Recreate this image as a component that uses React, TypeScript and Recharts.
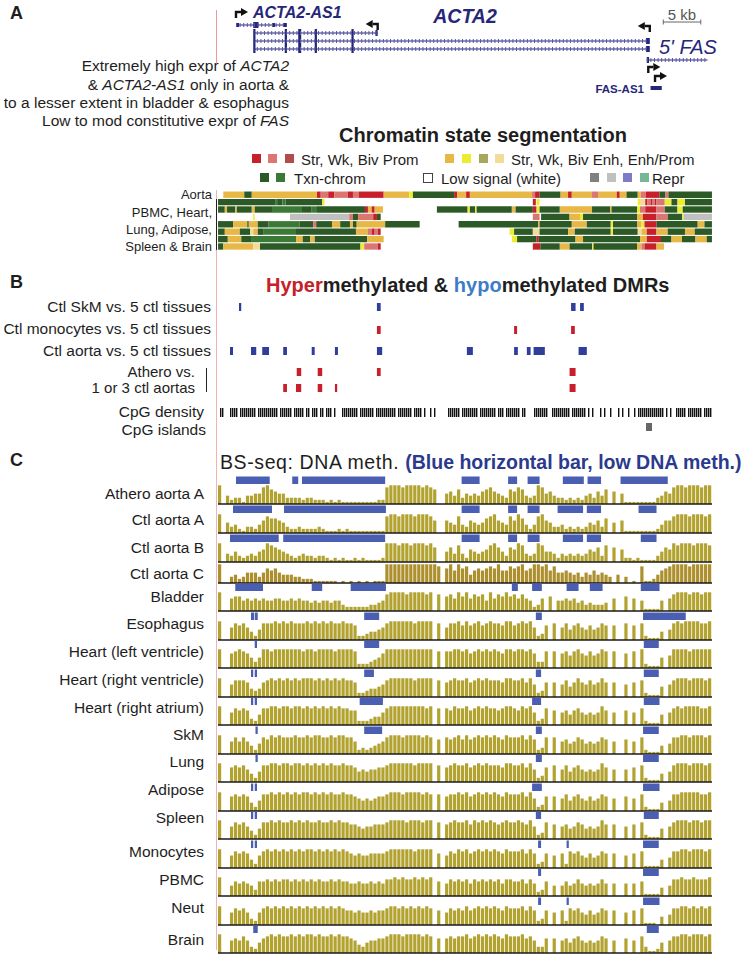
import React from "react";
import {
  BarChart,
  ComposedChart,
  Bar,
  Scatter,
  XAxis,
  YAxis,
  ReferenceArea,
  ReferenceLine,
} from "recharts";

const FONT = "'Liberation Sans', Arial, Helvetica, sans-serif";
const SPAN_KB = 65.9; // width of the browser window in kb
const PLOT_X = 218;
const PLOT_W = 494;
const NAVY = "#27277a";
const OLIVE = "#b2a230";
const LOW_BLUE = "#4a5eb2";
const INK = "#1e1e1e";

type Seg = [number, number, string];
type Span = [number, number];

const STATE_COLORS: Record<string, string> = {
  SP: "#c8202b", // strong promoter
  WP: "#db7672", // weak promoter
  BP: "#b04c4c", // bivalent promoter
  SE: "#e8b847", // strong enhancer
  WE: "#eded2f", // weak enhancer
  BE: "#a8a85c", // bivalent enhancer
  EP: "#f2dc98", // enh/prom
  TX: "#2b5a26", // transcribed
  TC: "#3b7a36", // txn-chrom
  R1: "#808080",
  R2: "#c0c0c0",
  R3: "#7d7dc6",
  R4: "#76b896",
};

// ---- gene models (kb from left edge) ----
const acta2As1Span: Span = [2.4, 9.2];
const acta2As1Exons: Span[] = [[2.4, 2.8], [4.7, 5.4], [7.2, 7.6], [8.7, 9.2]];
const acta2ShortSpan: Span = [4.7, 21.3];
const acta2LongSpan: Span = [4.7, 57.6];
const acta2SharedExons: Span[] = [[4.7, 5.0], [8.9, 9.2], [10.7, 11.1], [12.9, 13.2], [17.8, 18.1]];
const acta2ShortFirstExon: Span = [21.0, 21.3];
const acta2LongFirstExon: Span = [57.1, 57.6];
const fasSpan: Span = [57.2, 65.3];
const fasExons: Span[] = [[57.2, 57.5]];
const fasAs1Span: Span = [57.7, 59.2];
const tssKb = [2.4, 21.3, 57.6, 57.4, 58.3];
const tssStrand = [1, -1, -1, 1, 1];
const scaleBarKb: Span = [59.4, 64.4];

// ---- chromatin state segmentation ----
const chromAorta: Seg[] = [
  [0.7, 3.5, "SE"], [3.5, 4.5, "TX"], [4.5, 13.2, "SE"], [13.2, 13.7, "SP"], [13.7, 14.7, "WP"],
  [14.7, 15.5, "SP"], [15.5, 17.3, "WP"], [17.3, 18.0, "SP"], [18.0, 18.8, "WP"], [18.8, 22.1, "SP"],
  [22.1, 25.5, "SE"], [25.5, 26.0, "WE"], [26.0, 31.5, "TX"], [31.5, 31.9, "SP"], [31.9, 33.1, "SE"],
  [33.1, 33.6, "SP"], [33.6, 41.9, "SE"], [41.9, 42.3, "WP"], [42.3, 42.9, "SP"], [42.9, 45.7, "TX"],
  [45.7, 46.7, "SE"], [46.7, 47.2, "SP"], [47.2, 49.9, "SE"], [49.9, 50.7, "WP"], [50.7, 53.2, "SE"],
  [53.2, 53.6, "SP"], [53.6, 54.5, "SE"], [54.5, 56.0, "TX"], [56.0, 56.4, "SE"], [56.4, 57.1, "WP"],
  [57.1, 58.9, "SP"], [58.9, 59.7, "TX"], [59.7, 60.1, "WP"], [60.1, 65.9, "TX"],
];
const chromTissue1: Seg[] = [
  [0, 7.7, "TX"], [7.7, 8.0, "TC"], [8.0, 8.6, "TX"], [8.6, 9.0, "TC"], [9.0, 13.9, "TX"], [13.9, 14.2, "WE"],
  [42.0, 42.4, "SP"], [42.5, 42.9, "WE"], [56.0, 56.3, "WE"], [56.3, 57.0, "EP"], [57.0, 57.3, "SP"],
  [57.3, 57.7, "WP"], [57.7, 57.9, "SP"], [57.9, 58.3, "WP"], [58.3, 58.5, "SP"], [58.5, 59.6, "WP"],
  [59.6, 60.5, "WE"], [60.5, 61.3, "TX"], [61.3, 62.3, "WE"], [62.3, 65.9, "TX"],
];
const chromTissue2: Seg[] = [
  [0, 0.9, "TX"], [0.9, 1.2, "SE"], [1.2, 2.3, "TX"], [2.3, 2.5, "SE"], [2.5, 4.5, "TX"], [4.5, 4.9, "SE"],
  [4.9, 7.2, "TX"], [7.2, 11.2, "TC"], [11.2, 12.5, "TX"], [12.5, 13.2, "TC"], [13.2, 19.6, "TX"],
  [19.6, 20.0, "SP"], [20.0, 20.5, "SE"], [20.5, 20.9, "SP"], [20.9, 22.0, "SE"], [29.2, 33.3, "TX"],
  [33.3, 33.6, "WE"], [33.6, 34.3, "TX"], [34.3, 34.5, "WE"], [34.5, 39.2, "TX"], [39.2, 39.7, "SE"],
  [39.7, 42.0, "TX"], [42.0, 42.5, "SP"], [42.5, 42.9, "WE"], [42.9, 45.6, "TX"], [45.6, 49.9, "SE"],
  [49.9, 52.3, "TX"], [52.3, 52.5, "SE"], [52.5, 55.9, "TX"], [55.9, 56.3, "WE"], [56.3, 57.0, "WP"],
  [57.0, 58.5, "SP"], [58.5, 59.6, "WP"], [59.6, 61.3, "TX"], [61.3, 62.0, "WE"], [62.0, 65.9, "TX"],
];
const chromTissue3: Seg[] = [
  [4.7, 4.9, "WE"], [9.6, 17.5, "R2"], [17.5, 18.0, "WP"], [18.0, 18.7, "TX"], [18.7, 20.7, "WP"],
  [20.7, 21.2, "SP"], [21.2, 21.7, "TX"], [42.0, 42.9, "WP"], [43.1, 46.9, "TX"], [46.9, 48.3, "SE"],
  [48.3, 48.7, "WE"], [48.7, 55.9, "TX"], [55.9, 56.7, "SE"], [56.7, 58.5, "SP"], [58.5, 60.0, "WP"],
  [60.0, 61.9, "TX"], [61.9, 62.1, "WE"], [62.1, 65.9, "R2"],
];
const chromTissue4: Seg[] = [
  [0, 2.0, "TX"], [2.0, 3.9, "SE"], [3.9, 4.1, "TX"], [4.1, 5.3, "SE"], [5.3, 6.7, "TX"], [6.7, 10.9, "TC"],
  [10.9, 12.7, "TX"], [12.7, 13.1, "WP"], [13.1, 15.2, "TX"], [15.2, 16.3, "SE"], [16.3, 17.6, "TX"],
  [17.6, 18.0, "SE"], [18.0, 18.5, "TX"], [18.5, 22.3, "SE"], [22.3, 26.9, "TX"], [32.1, 42.7, "TX"],
  [42.7, 42.9, "SE"], [42.9, 47.2, "TX"], [47.2, 49.2, "SE"], [49.2, 52.4, "TX"], [52.4, 52.7, "WE"],
  [52.7, 55.9, "TX"], [55.9, 56.5, "SE"], [56.5, 56.9, "WE"], [56.9, 58.5, "SP"], [58.5, 64.0, "TX"],
  [64.0, 64.9, "SE"], [64.9, 65.9, "TX"],
];
const chromTissue5: Seg[] = [
  [0, 0.9, "TX"], [0.9, 2.9, "SE"], [2.9, 4.3, "TX"], [4.3, 4.7, "EP"], [4.7, 5.3, "SE"], [5.3, 6.1, "TX"],
  [6.1, 10.4, "TC"], [10.4, 18.4, "TX"], [18.4, 20.0, "SE"], [20.0, 20.5, "WP"], [20.5, 20.9, "SP"],
  [20.9, 21.3, "WP"], [21.3, 21.7, "SP"], [38.9, 39.5, "WE"], [39.5, 42.0, "TX"], [42.0, 42.9, "EP"],
  [42.9, 46.7, "TX"], [46.7, 47.6, "SE"], [47.6, 52.4, "TX"], [52.4, 52.7, "WE"], [52.7, 56.0, "TX"],
  [56.0, 56.5, "EP"], [56.5, 57.2, "SE"], [57.2, 58.5, "SP"], [58.5, 60.0, "SE"], [60.0, 62.3, "TX"],
  [62.3, 63.6, "SE"], [63.6, 65.9, "TX"],
];
const chromTissue6: Seg[] = [
  [0, 1.3, "TX"], [1.3, 3.1, "SE"], [3.1, 4.4, "TX"], [4.4, 10.4, "TC"], [10.4, 11.3, "SE"], [11.3, 12.3, "TX"],
  [12.3, 12.9, "SE"], [12.9, 19.9, "TX"], [19.9, 22.1, "SE"], [39.2, 39.9, "WE"], [39.9, 42.5, "TX"],
  [42.5, 42.8, "SP"], [42.8, 47.7, "TX"], [47.7, 48.7, "SE"], [48.7, 56.3, "TX"], [56.3, 57.2, "SE"],
  [57.2, 59.1, "SP"], [59.1, 60.5, "TX"], [60.5, 61.9, "SE"], [61.9, 63.7, "TX"], [63.7, 65.2, "SE"],
  [65.2, 65.9, "TX"],
];
const chromTissue7: Seg[] = [
  [0, 0.7, "TX"], [0.7, 4.7, "SE"], [4.7, 5.6, "EP"], [5.6, 19.0, "TX"], [19.0, 19.5, "WE"], [19.5, 21.3, "WP"],
  [21.3, 21.7, "SP"], [42.0, 43.0, "SP"], [43.0, 45.6, "TX"], [45.6, 46.9, "SE"], [46.9, 49.9, "TX"],
  [49.9, 50.1, "WE"], [50.1, 55.9, "TX"], [55.9, 56.5, "SE"], [56.5, 56.9, "WP"], [56.9, 58.5, "SP"],
  [58.5, 59.5, "SE"],
];

// ---- DMRs ----
const dmrSkm: Span[] = [[2.8, 3.1], [21.2, 21.7], [47.1, 47.7], [48.3, 48.8]];
const dmrMonocytes: Span[] = [[21.2, 21.7], [39.5, 39.9], [47.1, 47.6]];
const dmrAorta: Span[] = [
  [1.6, 2.0], [4.4, 5.1], [5.9, 6.8], [8.7, 9.2], [12.5, 12.9], [15.6, 16.0], [21.2, 21.9],
  [33.2, 34.0], [39.5, 40.0], [41.2, 41.7], [42.1, 43.6], [48.1, 49.2],
];
const dmrAtheroVs1: Span[] = [[10.5, 11.1], [13.3, 13.9], [21.2, 21.7], [46.9, 47.7]];
const dmrAtheroVs3: Span[] = [[8.7, 9.2], [10.4, 11.1], [13.3, 13.9], [15.6, 15.9], [46.9, 47.7]];

// CpG density, 1 = CpG present in bin
const cpgDensity =
  "011000 1111 0 11111111 0 1111111111 0 111111 0 11111 0 11 0 111 0 11 0 111 0 1000 " +
  "11111111 0 1111111 0 11 11111111 0 1111111 0 1111 0 1 00101000000 " +
  "111111 0 11111111 0 11111111 0 111 0 1111111 0 1 1000 01111111 00 111111111 0 1111111 0 1 " +
  "010001010010001010010010 1111111111111 010100 11111 0 1111111 0 1111";
const cpgIslands: Span[] = [[57.1, 57.9]];

// ---- BS-seq methylation profiles, 0-9 per bin (9 = fully methylated) ----
const athAortaA = "90 423314455 897655 3333233222 121211111111122 899989999898 700 5647354546786543 7687434985643 323232453647 060511111111 3465 8998999899";
const ctlAortaA = "90 534213324 687765 3223222232 111212111111111 899899989998 600 6548436545789654 8697424896533 423232354637 050611111111 2466 8999899989";
const ctlAortaB = "90 435323435 698765 4323433233 212121121211112 999899899989 700 5748426545689753 7698434985542 434343465738 070622121111 3576 9899989998";
const ctlAortaC = "90 034235553 576754 4433222111 111010101010111 999999999999 980 7969784676787966 8789679989685 565453546454 304030108112 4678 9999899999";
const bladder = "90 067756565 655665 5656554545 545532222223345 899998999989 080 7869796878596879 7868652360705 565645343334 060070605111 1506 8999899899";
const esophagus = "90 068786425 888989 8988898989 898898872234456 899999989999 080 6889797897898879 9789896237080 685786575687 070080708211 1405 8989999889";
const heartLv = "90 078987535 998999 9999899899 998999982223457 999999999999 080 8899897898989879 9899897338080 786897686798 080070809211 1506 9999899999";
const heartRv = "90 068887434 789898 9898999898 989898872234456 899999989999 080 7898897898988879 9889796237070 685797686797 070060708211 1506 8999899989";
const heartRa = "90 068787325 889989 9899898989 898988772223446 899999999989 080 8798897898988789 9879896238070 675786565697 060070608211 1506 8989999889";
const skm = "90 068686425 879898 8898898998 898998862323456 899989999898 070 8789797898989879 8889797238080 675687565687 060070608211 1405 8899899989";
const lung = "90 078786425 889989 9899898989 898898875656677 899999989999 080 7898897898988879 9889796237080 685786565697 060060708211 1405 8999899989";
const adipose = "90 078787425 889898 9898998989 898898876565677 899989999898 080 7889897898989879 8889796237070 685786575687 060070608211 1405 8899999889";
const spleen = "90 068786425 889898 8989898898 898988776566777 899998999899 080 7898897989898789 8898796238070 675687565697 070060708211 1506 8999899899";
const monocytes = "90 068787426 898989 8989899898 989898767667777 899999989999 070 6879897898989879 8889797237060 728786575687 070060708111 1405 8899899989";
const pbmc = "90 057676537 787878 8787878787 787877667667676 889898898989 070 6878786878787868 8778686237050 575686565686 060060607111 1405 8898898889";
const neut = "90 068786326 898989 8989898989 898987767667677 899898989898 070 6878797898989879 8889797237060 728786575687 070060708111 0405 8899898989";
const brain = "90 067686325 789898 8989899898 898988764356677 899989999898 070 7878897898989879 8889786337070 675786565687 060070608311 2506 8899899989";

// low-methylation (blue bar) calls, kb
const lowAthAortaA: Span[] = [[2.4, 6.9], [9.9, 10.7], [11.2, 22.3], [32.5, 34.9], [38.7, 39.9], [41.3, 42.9], [46.0, 48.8], [49.3, 51.1], [53.7, 60.0]];
const lowCtlAortaA: Span[] = [[2.0, 7.2], [8.8, 22.4], [32.5, 34.9], [38.7, 39.9], [41.3, 42.9], [45.3, 48.7], [49.2, 51.1], [56.1, 58.5]];
const lowCtlAortaB: Span[] = [[1.6, 8.1], [8.7, 22.3], [32.5, 34.9], [38.7, 39.9], [41.3, 42.9], [46.0, 48.7], [49.2, 51.1], [56.4, 58.5]];
const lowCtlAortaC: Span[] = [];
const lowBladder: Span[] = [[2.3, 6.0], [12.5, 13.9], [17.7, 22.4], [39.2, 40.0], [41.9, 43.2], [46.5, 48.1], [49.6, 51.3], [56.4, 58.9]];
const lowEsophagus: Span[] = [[4.4, 4.8], [4.9, 5.3], [19.5, 21.5], [42.4, 43.2], [56.7, 62.4]];
const lowHeartLv: Span[] = [[4.9, 5.2], [19.5, 21.5], [56.8, 58.8]];
const lowHeartRv: Span[] = [[4.4, 4.7], [4.9, 5.2], [19.5, 20.8], [42.4, 43.1], [56.8, 58.8]];
const lowHeartRa: Span[] = [[4.4, 4.7], [4.9, 5.2], [18.9, 22.0], [41.9, 43.1], [56.8, 58.9]];
const lowSkm: Span[] = [[5.0, 5.3], [19.5, 21.9], [42.4, 43.2], [56.7, 58.8]];
const lowLung: Span[] = [[5.0, 5.3], [42.4, 43.2], [56.7, 58.8]];
const lowAdipose: Span[] = [[4.4, 4.7], [4.9, 5.2], [41.9, 43.2], [56.7, 58.9]];
const lowSpleen: Span[] = [[4.4, 4.7], [4.9, 5.2], [42.4, 43.1], [56.8, 58.8]];
const lowMonocytes: Span[] = [[4.4, 4.7], [4.9, 5.2], [42.7, 43.1], [46.5, 46.8], [56.7, 58.8]];
const lowPbmc: Span[] = [[42.7, 43.1], [56.7, 58.8]];
const lowNeut: Span[] = [[42.7, 43.1], [46.5, 46.8], [56.7, 58.9]];
const lowBrain: Span[] = [[4.7, 5.3], [57.2, 58.8]];

const bsLabels = [
  "Athero aorta A", "Ctl aorta A", "Ctl aorta B", "Ctl aorta C", "Bladder", "Esophagus",
  "Heart (left ventricle)", "Heart (right ventricle)", "Heart (right atrium)", "SkM", "Lung",
  "Adipose", "Spleen", "Monocytes", "PBMC", "Neut", "Brain",
];
const bsProfiles = [
  athAortaA, ctlAortaA, ctlAortaB, ctlAortaC, bladder, esophagus, heartLv, heartRv, heartRa,
  skm, lung, adipose, spleen, monocytes, pbmc, neut, brain,
];
const bsLows = [
  lowAthAortaA, lowCtlAortaA, lowCtlAortaB, lowCtlAortaC, lowBladder, lowEsophagus, lowHeartLv,
  lowHeartRv, lowHeartRa, lowSkm, lowLung, lowAdipose, lowSpleen, lowMonocytes, lowPbmc, lowNeut, lowBrain,
];

// layout
const BS_BASELINE = [504, 533, 562, 583, 611, 639.5, 668, 696.5, 725, 753.5, 782, 810.5, 839, 867.5, 896, 924.5, 953];
const BS_LABEL_Y = [494, 520, 548, 574, 597, 624, 652, 680, 708, 735, 762, 790, 818, 852, 880, 908, 940];
const CHROM_TOP = 191;
const CHROM_ROW_H = 7.4;

function toBins(profile: string, scale: number) {
  const s = profile.replace(/\s/g, "");
  const w = SPAN_KB / s.length;
  return s
    .split("")
    .map((c, i) => ({ x: (i + 0.5) * w, v: Number(c) / scale }))
    .filter((d) => d.v > 0);
}

function Txt({ x, y, align = "left", size = 15.5, weight = 400, italic = false, color = INK, spacing, children }: any) {
  const style: React.CSSProperties = {
    position: "absolute",
    top: y,
    fontFamily: FONT,
    fontSize: size,
    fontWeight: weight,
    fontStyle: italic ? "italic" : "normal",
    color,
    whiteSpace: "nowrap",
    lineHeight: 1,
    letterSpacing: spacing,
  };
  if (align === "right") {
    style.right = 753 - x;
    style.transform = "translateY(-50%)";
  } else if (align === "center") {
    style.left = x;
    style.transform = "translate(-50%, -50%)";
  } else {
    style.left = x;
    style.transform = "translateY(-50%)";
  }
  return <div style={style}>{children}</div>;
}

const Box = ({ x, y, w, h, c, border }: any) => (
  <div
    style={{
      position: "absolute", left: x, top: y, width: w, height: h, background: c,
      border: border, boxSizing: "border-box",
    }}
  />
);

const noMargin = { top: 0, right: 0, bottom: 0, left: 0 };

const TssArrow = (p: any) => {
  const { cx, cy, payload } = p;
  if (cx == null || cy == null) return null;
  const d = payload.dir;
  const top = cy - 6;
  const hb = cx + d * 5;
  return (
    <g>
      <path d={`M${cx},${cy} L${cx},${top} L${hb},${top}`} stroke="#111" strokeWidth={2.4} fill="none" />
      <path d={`M${hb},${top - 4} L${hb + d * 7},${top} L${hb},${top + 4} Z`} fill="#111" />
    </g>
  );
};

function GeneTrack() {
  const rowY = { as1: 25, short: 33, long1: 41, long2: 49, fas: 60, fasAs1: 88 };
  const tssY = [18, 30, 32, 73, 82];
  const arrows = tssKb.map((x, i) => ({ x, y: tssY[i], dir: tssStrand[i] }));
  const line = (k: string, [a, b]: Span, y: number) => [
    <ReferenceLine key={k + "l"} segment={[{ x: a, y }, { x: b, y }]} stroke={NAVY} strokeWidth={1} />,
    <ReferenceLine key={k + "h"} segment={[{ x: a, y }, { x: b, y }]} stroke="#5656a8" strokeWidth={4} strokeDasharray="1 2.6" />,
  ];
  const exon = (k: string, [a, b]: Span, y: number, h = 7) => (
    <ReferenceArea key={k} x1={a} x2={b} y1={y - h / 2} y2={y + h / 2} fill={NAVY} fillOpacity={1} stroke="none" ifOverflow="visible" />
  );
  return (
    <div style={{ position: "absolute", left: PLOT_X, top: 0 }}>
      <ComposedChart width={PLOT_W} height={100} margin={noMargin}>
        <XAxis type="number" dataKey="x" domain={[0, SPAN_KB]} allowDataOverflow hide />
        <YAxis type="number" dataKey="y" domain={[0, 100]} allowDataOverflow reversed hide />
        {line("as1", acta2As1Span, rowY.as1)}
        {acta2As1Exons.map((e, i) => exon("as1e" + i, e, rowY.as1, i === 1 ? 6 : 4))}
        {line("sh", acta2ShortSpan, rowY.short)}
        {line("l1", acta2LongSpan, rowY.long1)}
        {line("l2", acta2LongSpan, rowY.long2)}
        {[rowY.short, rowY.long1, rowY.long2].map((y, r) =>
          acta2SharedExons.map((e, i) => exon(`ae${r}-${i}`, e, y, 8)),
        )}
        {exon("sfe", acta2ShortFirstExon, rowY.short, 6)}
        {exon("lfe1", acta2LongFirstExon, rowY.long1, 6)}
        {exon("lfe2", acta2LongFirstExon, rowY.long2, 6)}
        {line("fas", fasSpan, rowY.fas)}
        {fasExons.map((e, i) => exon("fe" + i, e, rowY.fas, 6))}
        {exon("fasas1", fasAs1Span, rowY.fasAs1, 4)}
        <ReferenceLine segment={[{ x: scaleBarKb[0], y: 22 }, { x: scaleBarKb[1], y: 22 }]} stroke="#666" strokeWidth={1} />
        <ReferenceLine segment={[{ x: scaleBarKb[0], y: 19.5 }, { x: scaleBarKb[0], y: 24.5 }]} stroke="#666" strokeWidth={1} />
        <ReferenceLine segment={[{ x: scaleBarKb[1], y: 19.5 }, { x: scaleBarKb[1], y: 24.5 }]} stroke="#666" strokeWidth={1} />
        <Scatter data={arrows} dataKey="y" shape={TssArrow} isAnimationActive={false} />
      </ComposedChart>
    </div>
  );
}

function ChromatinTrack() {
  const rows = [chromAorta, chromTissue1, chromTissue2, chromTissue3, chromTissue4, chromTissue5, chromTissue6, chromTissue7];
  const h = CHROM_ROW_H * rows.length;
  return (
    <div style={{ position: "absolute", left: PLOT_X, top: CHROM_TOP }}>
      <ComposedChart width={PLOT_W} height={h} margin={noMargin}>
        <XAxis type="number" dataKey="x" domain={[0, SPAN_KB]} allowDataOverflow hide />
        <YAxis type="number" domain={[0, rows.length]} allowDataOverflow reversed hide />
        {rows.map((row, r) =>
          row.map(([a, b, s], i) => (
            <ReferenceArea
              key={`${r}-${i}`} x1={a} x2={b} y1={r + 0.07} y2={r + 0.93}
              fill={STATE_COLORS[s]} fillOpacity={1} stroke="none" ifOverflow="visible"
            />
          )),
        )}
      </ComposedChart>
    </div>
  );
}

function SpanTrack({ marks, color, top, height = 8 }: any) {
  return (
    <div style={{ position: "absolute", left: PLOT_X, top }}>
      <ComposedChart width={PLOT_W} height={height} margin={noMargin}>
        <XAxis type="number" dataKey="x" domain={[0, SPAN_KB]} allowDataOverflow hide />
        <YAxis type="number" domain={[0, 1]} allowDataOverflow hide />
        {marks.map(([a, b]: Span, i: number) => (
          <ReferenceArea key={i} x1={a} x2={b} y1={0} y2={1} fill={color} fillOpacity={1} stroke="none" ifOverflow="visible" />
        ))}
      </ComposedChart>
    </div>
  );
}

function CpgDensity() {
  const data = toBins(cpgDensity, 1);
  return (
    <div style={{ position: "absolute", left: PLOT_X, top: 408 }}>
      <BarChart width={PLOT_W} height={9} data={data} margin={noMargin}>
        <XAxis type="number" dataKey="x" domain={[0, SPAN_KB]} allowDataOverflow hide />
        <YAxis type="number" domain={[0, 1]} hide />
        <Bar dataKey="v" fill="#111" barSize={1.4} isAnimationActive={false} />
      </BarChart>
    </div>
  );
}

function BsTrack({ profile, lows, baseline, color }: any) {
  const data = toBins(profile, 9);
  return (
    <div style={{ position: "absolute", left: PLOT_X, top: baseline - 29 }}>
      <BarChart width={PLOT_W} height={30} data={data} margin={{ top: 0, right: 0, bottom: 1, left: 0 }}>
        <XAxis type="number" dataKey="x" domain={[0, SPAN_KB]} allowDataOverflow hide />
        <YAxis type="number" domain={[0, 1.55]} allowDataOverflow hide />
        {lows.map(([a, b]: Span, i: number) => (
          <ReferenceArea key={i} x1={a} x2={b} y1={1.07} y2={1.47} fill={LOW_BLUE} fillOpacity={1} stroke="none" ifOverflow="visible" />
        ))}
        <Bar dataKey="v" fill={color} barSize={3.2} isAnimationActive={false} />
        <ReferenceLine y={0} stroke="#1a1a1a" strokeWidth={1.5} />
      </BarChart>
    </div>
  );
}

export default function App() {
  const sc = STATE_COLORS;
  return (
    <div style={{ position: "absolute", left: 0, top: 0, width: 753, height: 956, background: "#fff", overflow: "hidden", fontFamily: FONT }}>
      {/* guide lines */}
      <Box x={215.5} y={10} w={1.2} h={53} c="#ee9aa2" />
      <Box x={215.5} y={190} w={1.2} h={760} c="#f2b3b8" />
      <Box x={215.8} y={199} w={1.6} h={51} c="#222" />
      <Box x={205.5} y={368} w={1.6} h={24} c="#222" />

      {/* Panel A */}
      <Txt x={10} y={13} size={18} weight={700}>A</Txt>
      <GeneTrack />
      <Txt x={253} y={13} size={16} weight={700} italic color={NAVY}>ACTA2-AS1</Txt>
      <Txt x={465} y={17} size={19.5} weight={700} italic color={NAVY} align="center">ACTA2</Txt>
      <Txt x={682} y={14} size={15} color="#555" align="center">5 kb</Txt>
      <Txt x={659} y={47} size={20} italic color={NAVY}>5' FAS</Txt>
      <Txt x={644} y={90} size={11.5} weight={700} color={NAVY} align="right">FAS-AS1</Txt>

      <Txt x={289} y={66} align="right">Extremely high expr of <i>ACTA2</i></Txt>
      <Txt x={289} y={84.5} align="right">& <i>ACTA2-AS1</i> only in aorta &</Txt>
      <Txt x={289} y={103} align="right">to a lesser extent in bladder & esophagus</Txt>
      <Txt x={289} y={121} align="right">Low to mod constitutive expr of <i>FAS</i></Txt>

      <Txt x={483} y={135} size={20} weight={700} align="center">Chromatin state segmentation</Txt>
      <Box x={252} y={154} w={9} h={9} c={sc.SP} />
      <Box x={268} y={154} w={9} h={9} c={sc.WP} />
      <Box x={285} y={154} w={9} h={9} c={sc.BP} />
      <Txt x={301} y={158.5} size={15}>Str, Wk, Biv Prom</Txt>
      <Box x={445} y={154} w={9} h={9} c={sc.SE} />
      <Box x={462} y={154} w={9} h={9} c={sc.WE} />
      <Box x={479} y={154} w={9} h={9} c={sc.BE} />
      <Box x={495} y={154} w={9} h={9} c={sc.EP} />
      <Txt x={511} y={158.5} size={15}>Str, Wk, Biv Enh, Enh/Prom</Txt>
      <Box x={260} y={173} w={9} h={9} c={sc.TX} />
      <Box x={276} y={173} w={9} h={9} c={sc.TC} />
      <Txt x={294} y={177.5} size={15}>Txn-chrom</Txt>
      <Box x={423} y={173} w={10} h={10} c="#fff" border="1.5px solid #444" />
      <Txt x={441} y={177.5} size={15}>Low signal (white)</Txt>
      <Box x={590} y={173} w={9} h={9} c={sc.R1} />
      <Box x={607} y={173} w={9} h={9} c={sc.R2} />
      <Box x={623} y={173} w={9} h={9} c={sc.R3} />
      <Box x={640} y={173} w={9} h={9} c={sc.R4} />
      <Txt x={652} y={177.5} size={15}>Repr</Txt>

      <ChromatinTrack />
      <Txt x={212} y={194} size={13} align="right">Aorta</Txt>
      <Txt x={212} y={212} size={13} align="right">PBMC, Heart,</Txt>
      <Txt x={212} y={229} size={13} align="right">Lung, Adipose,</Txt>
      <Txt x={212} y={246} size={13} align="right">Spleen & Brain</Txt>

      {/* Panel B */}
      <Txt x={10} y={282} size={18} weight={700}>B</Txt>
      <Txt x={266} y={285} size={20} weight={700}>
        <span style={{ color: "#c62028" }}>Hyper</span>methylated &amp; <span style={{ color: "#3f7cc8" }}>hypo</span>methylated DMRs
      </Txt>
      <SpanTrack marks={dmrSkm} color="#2f3d9c" top={303} />
      <SpanTrack marks={dmrMonocytes} color="#c8202b" top={325.5} />
      <SpanTrack marks={dmrAorta} color="#2f3d9c" top={346.5} />
      <SpanTrack marks={dmrAtheroVs1} color="#c8202b" top={368} />
      <SpanTrack marks={dmrAtheroVs3} color="#c8202b" top={384} />
      <Txt x={211} y={307} align="right">Ctl SkM vs. 5 ctl tissues</Txt>
      <Txt x={211} y={329} align="right">Ctl monocytes vs. 5 ctl tissues</Txt>
      <Txt x={211} y={350.5} align="right">Ctl aorta vs. 5 ctl tissues</Txt>
      <Txt x={195} y={371} size={15} align="right">Athero vs.</Txt>
      <Txt x={195} y={387} size={15} align="right">1 or 3 ctl aortas</Txt>

      <CpgDensity />
      <SpanTrack marks={cpgIslands} color="#666" top={423} />
      <Txt x={204} y={412} align="right">CpG density</Txt>
      <Txt x={206} y={430} align="right">CpG islands</Txt>

      {/* Panel C */}
      <Txt x={10} y={460} size={18} weight={700}>C</Txt>
      <Txt x={220} y={463} size={19.5}>
        <span style={{ letterSpacing: 0.6 }}>BS-seq: DNA meth. </span>
        <span style={{ color: "#2b3a8c", fontWeight: 700 }}>(Blue horizontal bar, low DNA meth.)</span>
      </Txt>
      {bsProfiles.map((p, i) => (
        <BsTrack
          key={i} profile={p} lows={bsLows[i]} baseline={BS_BASELINE[i]}
          color={i === 3 ? "#ad8f2e" : OLIVE}
        />
      ))}
      {bsLabels.map((l, i) => (
        <Txt key={l} x={204} y={BS_LABEL_Y[i]} align="right">{l}</Txt>
      ))}
    </div>
  );
}
